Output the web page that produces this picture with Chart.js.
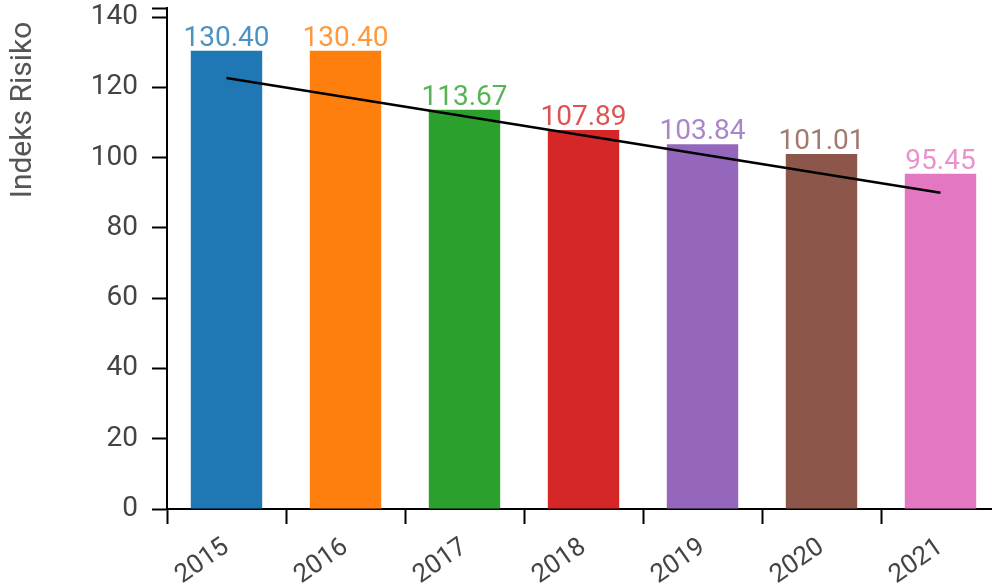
<!DOCTYPE html>
<html>
<head>
<meta charset="utf-8">
<script src="https://cdn.jsdelivr.net/npm/chart.js@4"></script>
<style>
html,body{margin:0;padding:0;background:#fff;overflow:hidden;width:992px;height:586px;}
#wrap{position:absolute;left:0;top:0;width:1000px;height:586px;}
</style>
</head>
<body>
<div id="wrap"><canvas id="c" width="1000" height="586"></canvas></div>
<script>
const years = ['2015','2016','2017','2018','2019','2020','2021'];
const riskIndex = [130.40, 130.40, 113.67, 107.89, 103.84, 101.01, 95.45];
const trendLine = [122.7, null, null, null, null, null, 90.0];
const barColors = ['#1f77b4','#ff7f0e','#2ca02c','#d62728','#9467bd','#8c564b','#e377c2'];
const yTicks = [0, 20, 40, 60, 80, 100, 120, 140];
const yAxisMax = 142.6;
const yTitle = 'Indeks Risiko';

const valueLabels = {
  id: 'valueLabels',
  afterDatasetsDraw(chart) {
    const ctx = chart.ctx;
    const meta = chart.getDatasetMeta(1);
    ctx.save();
    ctx.font = '28px Roboto';
    ctx.textAlign = 'center';
    ctx.textBaseline = 'alphabetic';
    meta.data.forEach((bar, i) => {
      ctx.fillStyle = barColors[i];
      ctx.globalAlpha = 0.8;
      ctx.fillText(riskIndex[i].toFixed(2), bar.x, bar.y - 5);
    });
    ctx.restore();
  }
};

const yTitlePlugin = {
  id: 'yTitlePlugin',
  afterDraw(chart) {
    const ctx = chart.ctx;
    ctx.save();
    ctx.font = '30px Roboto';
    ctx.fillStyle = '#555';
    ctx.textAlign = 'center';
    ctx.textBaseline = 'middle';
    ctx.translate(23, 110);
    ctx.rotate(-Math.PI / 2);
    ctx.fillText(yTitle, 0, 0);
    ctx.restore();
  }
};

new Chart(document.getElementById('c'), {
  data: {
    labels: years,
    datasets: [
      {
        type: 'line',
        data: trendLine,
        borderColor: '#000',
        borderWidth: 2.5,
        pointRadius: 0,
        spanGaps: true,
        order: 0
      },
      {
        type: 'bar',
        data: riskIndex,
        backgroundColor: barColors,
        barPercentage: 0.6,
        categoryPercentage: 1.0,
        order: 1
      }
    ]
  },
  options: {
    responsive: false,
    animation: false,
    devicePixelRatio: 1,
    layout: { padding: { top: 8, right: 0, left: 0, bottom: 0 } },
    plugins: { legend: { display: false }, tooltip: { enabled: false } },
    scales: {
      x: {
        type: 'category',
        offset: true,
        grid: { display: true, drawOnChartArea: false, offset: true, color: '#000', tickLength: 15, tickWidth: 2 },
        border: { display: true, color: '#000', width: 2 },
        ticks: { color: '#444', font: { family: 'Roboto', size: 26 }, minRotation: 35, maxRotation: 35, padding: 8 },
        afterFit(s) { s.height = 77; s.paddingTop = 0; s.paddingBottom = 0; }
      },
      y: {
        min: 0,
        max: yAxisMax,
        afterBuildTicks(s) { s.ticks = yTicks.concat([yAxisMax]).map(v => ({ value: v })); },
        grid: { display: true, drawOnChartArea: false, color: '#000', tickLength: 15, tickWidth: 2 },
        border: { display: true, color: '#000', width: 2 },
        ticks: {
          color: '#444', font: { family: 'Roboto', size: 28 }, padding: 14,
          callback(v) { return yTicks.includes(v) ? String(v) : ''; }
        },
        title: { display: false },
        afterFit(s) { s.width = 167; s.paddingTop = 0; s.paddingBottom = 0; }
      }
    }
  },
  plugins: [valueLabels, yTitlePlugin]
});
</script>
</body>
</html>
